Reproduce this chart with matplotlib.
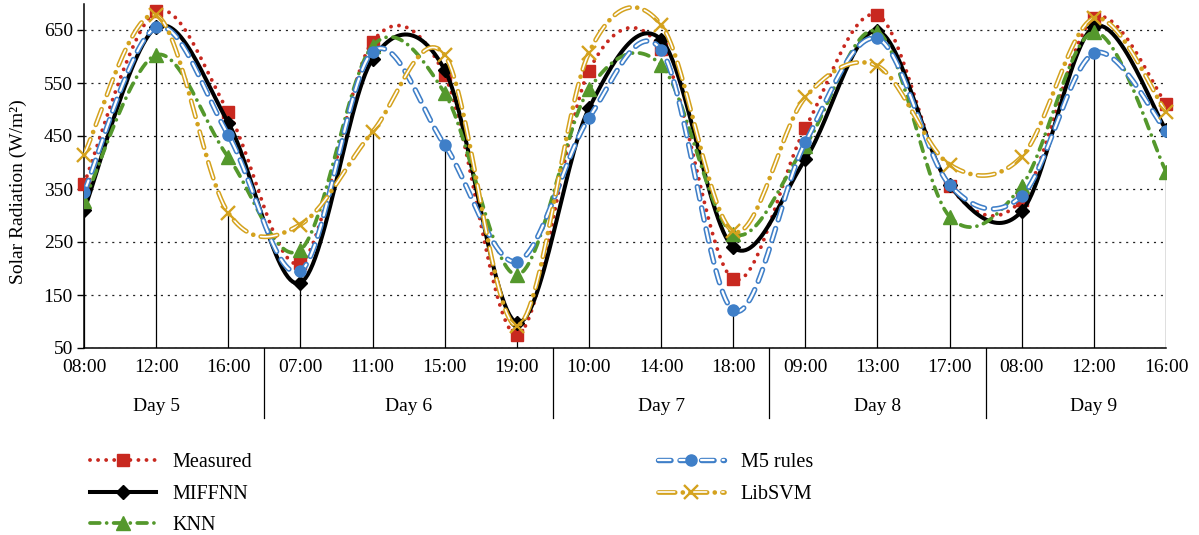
import matplotlib
matplotlib.use("Agg")
import matplotlib.pyplot as plt
import matplotlib.transforms as mtransforms
from matplotlib.lines import Line2D
from matplotlib.legend_handler import HandlerTuple
import numpy as np

plt.rcParams['font.family'] = ['Liberation Serif', 'DejaVu Serif']
plt.rcParams['lines.scale_dashes'] = False

# categories
hours = ['08:00', '12:00', '16:00',
         '07:00', '11:00', '15:00', '19:00',
         '10:00', '14:00', '18:00',
         '09:00', '13:00', '17:00',
         '08:00', '12:00', '16:00']
days = ['Day 5', 'Day 6', 'Day 7', 'Day 8', 'Day 9']
day_sizes = [3, 4, 3, 3, 3]

# series (W/m2)
measured = [360, 685, 495, 210, 628, 565, 75, 573, 615, 180, 465, 678, 355, 330, 672, 511]
miffnn = [310, 655, 475, 173, 595, 575, 98, 502, 632, 240, 406, 648, 357, 308, 656, 462]
knn = [327, 603, 410, 235, 620, 531, 188, 538, 584, 266, 432, 647, 298, 356, 646, 383]
m5 = [344, 655, 452, 195, 609, 433, 213, 484, 613, 121, 438, 634, 358, 337, 606, 460]
libsvm = [415, 678, 305, 283, 458, 603, 92, 607, 660, 270, 523, 582, 396, 411, 672, 496]

red = '#c8281f'
green = '#54982c'
blue = '#3f7fc8'
gold = '#d4a21e'


def smooth(y, n=30):
    # Excel-like smoothed line (Bezier through the points)
    y = np.asarray(y, float)
    x = np.arange(len(y), dtype=float)
    px = np.concatenate([[x[0]], x, [x[-1]]])
    py = np.concatenate([[y[0]], y, [y[-1]]])
    t = np.linspace(0, 1, n)[:, None]
    out = []
    for i in range(1, len(px) - 2):
        p0 = np.array([px[i - 1], py[i - 1]])
        p1 = np.array([px[i], py[i]])
        p2 = np.array([px[i + 1], py[i + 1]])
        p3 = np.array([px[i + 2], py[i + 2]])
        c1 = p1 + (p2 - p0) / 6
        c2 = p2 - (p3 - p1) / 6
        seg = ((1 - t) ** 3) * p1 + 3 * ((1 - t) ** 2) * t * c1 \
            + 3 * (1 - t) * t ** 2 * c2 + t ** 3 * p2
        out.append(seg if i == 1 else seg[1:])
    out = np.vstack(out)
    return out[:, 0], out[:, 1]


fig = plt.figure(figsize=(11.99, 5.35), dpi=100)
ax = fig.add_axes([84 / 1199, 1 - 348 / 535, (1166 - 84) / 1199, 344.5 / 535])

xs = np.arange(len(hours))
allv = np.array([measured, miffnn, knn, m5, libsvm])
ax.vlines(xs, 50, allv.min(axis=0), color='black', lw=0.9, zorder=1)

dot_ls = (0, (0.01, 5.8))
knn_ls = (0, (7, 5, 0.01, 5))
m5_ls = (0, (9, 6.5))
svm_ls = (0, (12, 5.5, 0.01, 5.5))
svm_in = (0, (12, 11.01))

sx, sy = smooth(measured)
ax.plot(sx, sy, color=red, lw=2.8, ls=dot_ls, dash_capstyle='round', zorder=3)
ax.plot(xs, measured, ls='none', marker='s', ms=8, color=red, zorder=3, clip_on=False)

sx, sy = smooth(miffnn)
ax.plot(sx, sy, color='black', lw=2.9, zorder=4, solid_capstyle='round')
ax.plot(xs, miffnn, ls='none', marker='D', ms=7, color='black', zorder=4)

sx, sy = smooth(knn)
ax.plot(sx, sy, color=green, lw=2.7, ls=knn_ls, dash_capstyle='round', zorder=5)
ax.plot(xs, knn, ls='none', marker='^', ms=10, color=green, zorder=5)

sx, sy = smooth(m5)
ax.plot(sx, sy, color=blue, lw=3.9, ls=m5_ls, dash_capstyle='round', zorder=6)
ax.plot(sx, sy, color='white', lw=1.6, ls=m5_ls, dash_capstyle='round', zorder=6)
ax.plot(xs, m5, ls='none', marker='o', ms=8, color=blue, zorder=6)

sx, sy = smooth(libsvm)
ax.plot(sx, sy, color=gold, lw=3.4, ls=svm_ls, dash_capstyle='round', zorder=7)
ax.plot(sx, sy, color='white', lw=1.2, ls=svm_in, dash_capstyle='round', zorder=7)
ax.plot(xs, libsvm, ls='none', marker='x', ms=10, mew=1.7, color=gold, zorder=7, clip_on=False)

ax.set_xlim(0, len(hours) - 1)
ax.set_ylim(50, 700)
ax.set_yticks(np.arange(50, 651, 100))
ax.set_xticks(xs)
ax.set_xticklabels(hours)
ax.tick_params(axis='x', length=0, pad=8, labelsize=14)
ax.tick_params(axis='y', length=5, width=1, pad=3, labelsize=14)
ax.yaxis.grid(True, color='#222222', lw=0.9, ls=(0, (1.5, 3.5)))
ax.set_axisbelow(True)
for s in ['top', 'right']:
    ax.spines[s].set_visible(False)
ax.spines['left'].set_linewidth(1.1)
ax.spines['bottom'].set_linewidth(1.1)

# day groups under the hours
trans = mtransforms.blended_transform_factory(ax.transData, ax.transAxes)
start = 0
for i, (d, n) in enumerate(zip(days, day_sizes)):
    center = start + (n - 1) / 2
    ax.text(center, -0.171, d, transform=trans, ha='center', va='center', fontsize=14)
    start += n
    if i < len(days) - 1:
        ax.plot([start - 0.5, start - 0.5], [0, -0.203], transform=trans,
                color='black', lw=0.9, clip_on=False)

fig.text(18 / 1199, 1 - 192 / 535, 'Solar Radiation (W/m²)', rotation=90,
         ha='center', va='center', fontsize=14)

# legend
h_meas = Line2D([], [], color=red, lw=2.8, ls=dot_ls, dash_capstyle='round',
                marker='s', ms=9)
h_miff = Line2D([], [], color='black', lw=2.9, marker='D', ms=7.5)
h_knn = Line2D([], [], color=green, lw=2.7, ls=knn_ls, dash_capstyle='round',
               marker='^', ms=10)
h_m5 = (Line2D([], [], color=blue, lw=3.9, ls=m5_ls, dash_capstyle='round'),
        Line2D([], [], color='white', lw=1.6, ls=m5_ls, dash_capstyle='round'),
        Line2D([], [], ls='none', color=blue, marker='o', ms=8))
h_svm = (Line2D([], [], color=gold, lw=3.4, ls=svm_ls, dash_capstyle='round'),
         Line2D([], [], color='white', lw=1.2, ls=svm_in, dash_capstyle='round'),
         Line2D([], [], ls='none', color=gold, marker='x', ms=10, mew=1.7))

leg_kw = dict(loc='upper left', frameon=False, fontsize=14.5, handlelength=3.3,
              handletextpad=0.8, labelspacing=0.62, borderpad=0, borderaxespad=0,
              numpoints=1, handler_map={tuple: HandlerTuple(ndivide=1, pad=0)})
fig.legend([h_meas, h_miff, h_knn], ['Measured', 'MIFFNN', 'KNN'],
           bbox_to_anchor=(90 / 1199, 1 - 453 / 535), **leg_kw)
fig.legend([h_m5, h_svm], ['M5 rules', 'LibSVM'],
           bbox_to_anchor=(658 / 1199, 1 - 453 / 535), **leg_kw)

fig.savefig('out.png', dpi=100)
